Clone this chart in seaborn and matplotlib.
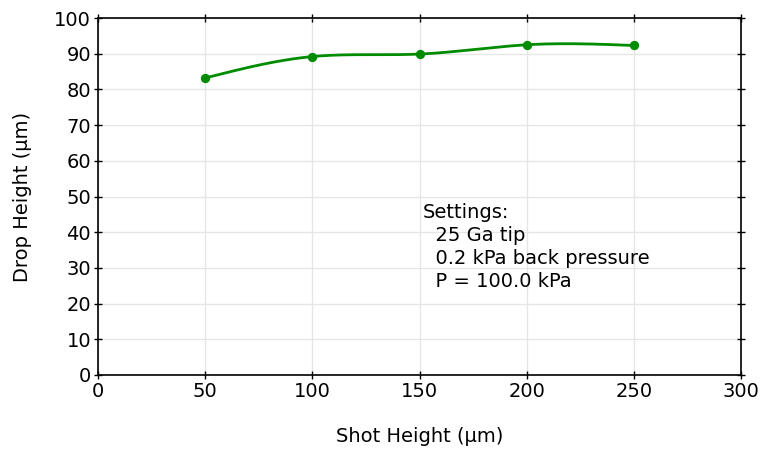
import numpy as np
import matplotlib
matplotlib.use("Agg")
import matplotlib.pyplot as plt
import seaborn as sns
import pandas as pd

shot_height = [50, 100, 150, 200, 250]
drop_height = [83.2, 89.2, 89.9, 92.5, 92.3]
x_ticks = [0, 50, 100, 150, 200, 250, 300]
y_ticks = [0, 10, 20, 30, 40, 50, 60, 70, 80, 90, 100]
settings_text = "Settings:\n  25 Ga tip\n  0.2 kPa back pressure\n  P = 100.0 kPa"

sns.set_theme(style="white")
plt.rcParams['font.family'] = ['DejaVu Sans']

def natural_spline(x, y, xs):
    x = np.asarray(x, float); y = np.asarray(y, float)
    n = len(x)
    h = np.diff(x)
    A = np.zeros((n, n)); b = np.zeros(n)
    A[0, 0] = 1; A[-1, -1] = 1
    for i in range(1, n - 1):
        A[i, i - 1] = h[i - 1]; A[i, i] = 2 * (h[i - 1] + h[i]); A[i, i + 1] = h[i]
        b[i] = 6 * ((y[i + 1] - y[i]) / h[i] - (y[i] - y[i - 1]) / h[i - 1])
    M = np.linalg.solve(A, b)
    out = np.empty_like(xs)
    for k, t in enumerate(xs):
        i = min(max(np.searchsorted(x, t) - 1, 0), n - 2)
        a = x[i + 1] - t; c = t - x[i]
        out[k] = (M[i] * a**3 + M[i + 1] * c**3) / (6 * h[i]) + (y[i] / h[i] - M[i] * h[i] / 6) * a + (y[i + 1] / h[i] - M[i + 1] * h[i] / 6) * c
    return out

xs = np.linspace(shot_height[0], shot_height[-1], 300)
curve = pd.DataFrame({"x": xs, "y": natural_spline(shot_height, drop_height, xs)})
pts = pd.DataFrame({"x": shot_height, "y": drop_height})

fig = plt.figure(figsize=(7.61, 4.53), dpi=100)
ax = fig.add_axes([98/761, 1 - 375/453, 643/761, 357/453])
green = "#008c00"
sns.lineplot(data=curve, x="x", y="y", ax=ax, color=green, linewidth=2, sort=False)
sns.scatterplot(data=pts, x="x", y="y", ax=ax, color=green, s=45, edgecolor=green, linewidth=0, zorder=5)

ax.set_xlim(0, 300); ax.set_ylim(0, 100)
ax.set_xticks(x_ticks); ax.set_yticks(y_ticks)
ax.grid(True, color="#e6e6e6", linewidth=1)
for s in ax.spines.values():
    s.set_visible(True); s.set_color("black"); s.set_linewidth(1.2)
ax.tick_params(axis="both", which="both", direction="inout", length=6, width=1, color="black",
               labelsize=14, labelcolor="black", top=True, right=True, bottom=True, left=True,
               labeltop=False, labelright=False, pad=2)
ax.set_xlabel("Shot Height (µm)", fontsize=14, labelpad=19, color="black")
ax.set_ylabel("Drop Height (µm)", fontsize=14, labelpad=16, color="black")
ax.text(151.5, 48.3, settings_text, fontsize=14, va="top", ha="left", linespacing=1.27, color="black")

fig.savefig("out.png", dpi=100)
